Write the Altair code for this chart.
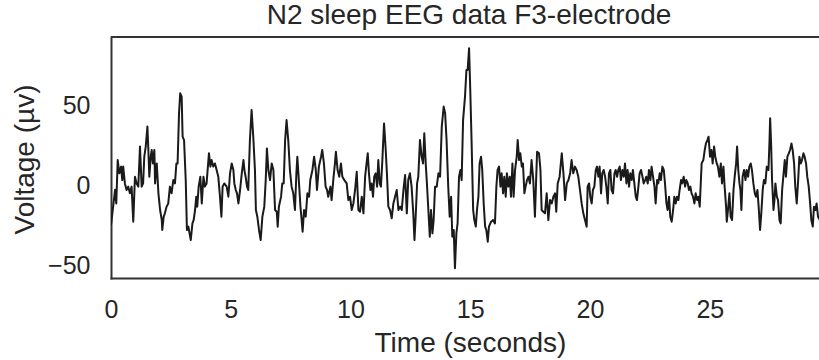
import altair as alt
import pandas as pd

# (time in seconds, voltage in microvolts)
seg_0_5 = [(0.00,-25),(0.17,-3),(0.22,-11.5),(0.28,15.6),(0.35,7.3),(0.42,11.5),(0.47,3.1),(0.51,11.5),(0.58,1),(0.65,-3.1),(0.72,-1),(0.79,-5.2),(0.86,-1),(0.93,-22.9),(1.00,5.2),(1.07,1),(1.14,-1),(1.21,24),(1.28,-1),(1.34,1),(1.39,17.7),(1.45,24),(1.52,36.5),(1.56,21.9),(1.60,5.2),(1.66,17.7),(1.70,21.9),(1.75,13.5),(1.81,21.9),(1.84,1),(1.91,13.5),(1.98,-5.2),(2.05,-15.6),(2.12,-21.9),(2.14,-28.1),(2.20,-19.8),(2.25,-17.7),(2.32,-13.5),(2.39,-11.5),(2.46,-1),(2.53,-5.2),(2.60,3.1),(2.67,1),(2.73,13.5),(2.78,13.5),(2.84,44.8),(2.89,57.3),(2.95,55.2),(2.99,30.2),(3.05,28.1),(3.12,3.1),(3.17,-28.1),(3.23,-26),(3.28,-30.2),(3.33,-34.4),(3.40,-24),(3.45,-21.9),(3.51,-15.6),(3.56,-7.3),(3.60,-13.5),(3.66,-1),(3.73,5.2),(3.79,-11.5),(3.86,5.2),(3.92,-1),(3.99,1),(4.09,19.8),(4.15,11.5),(4.20,15.6),(4.27,11.5),(4.34,13.5),(4.41,9.4),(4.48,5.2),(4.55,-7.3),(4.61,-19.8),(4.66,-1),(4.73,1),(4.83,-1),(4.90,-7.3),(4.97,7.3)]
seg_5_10 = [(5.04,13.5),(5.11,9.4),(5.15,1),(5.21,-3.1),(5.26,-5.2),(5.32,-11.5),(5.39,-3.1),(5.46,7.3),(5.53,15.6),(5.57,9.4),(5.62,5.2),(5.68,-1),(5.73,-3.1),(5.80,28.1),(5.87,46.9),(5.94,30.2),(6.01,9.4),(6.05,-15.6),(6.11,-19.8),(6.18,-28.1),(6.25,-34.4),(6.32,-19.8),(6.40,-13.5),(6.46,3.1),(6.51,22.9),(6.57,9.4),(6.64,3.1),(6.71,13.5),(6.78,9.4),(6.85,-15.6),(6.92,-16.7),(6.96,-26),(7.01,-13.5),(7.10,-7.3),(7.15,1),(7.21,1),(7.27,28.1),(7.33,40.6),(7.40,28.1),(7.47,9.4),(7.54,-1),(7.61,-5.2),(7.68,-15.6),(7.74,7.3),(7.78,17.7),(7.85,1),(7.91,-13.5),(7.96,-21.9),(8.00,-29.2),(8.06,-15.6),(8.13,-19.8),(8.20,-5.2),(8.27,-7.3),(8.32,3.1),(8.41,9.4),(8.48,17.7),(8.55,9.4),(8.60,-3.1),(8.68,11.5),(8.77,17.7),(8.82,21.9),(8.89,13.5),(8.96,-1),(9.02,-3.1),(9.07,-7.3),(9.16,-1),(9.21,-9.4),(9.28,3.1),(9.35,13.5),(9.39,20.8),(9.46,9.4),(9.53,5.2),(9.60,13.5),(9.66,5.2),(9.74,3.1),(9.84,1),(9.91,-9.4),(9.98,-7.3)]
seg_10_15 = [(10.05,-15.6),(10.12,-11.5),(10.19,-3.1),(10.26,8.3),(10.33,-15.6),(10.40,-16.7),(10.47,-7.3),(10.54,-17.7),(10.61,5.2),(10.67,13.5),(10.72,19.8),(10.77,7.3),(10.83,-3.1),(10.88,1),(10.94,-7.3),(10.99,5.2),(11.05,7.3),(11.11,-1),(11.16,15.6),(11.22,1),(11.27,-1),(11.33,15.6),(11.40,38.5),(11.47,21.9),(11.52,7.3),(11.58,-13.5),(11.65,-15.6),(11.72,-20.8),(11.79,-11.5),(11.86,-7.3),(11.93,-3.1),(12.00,-15.6),(12.07,-13.5),(12.14,-15.6),(12.21,-3.1),(12.28,6.3),(12.35,-17.7),(12.41,3.1),(12.48,7.3),(12.55,-1),(12.62,-17.7),(12.67,-34.4),(12.72,-19.8),(12.78,1),(12.83,5.2),(12.90,28.1),(12.97,17.7),(13.03,13.5),(13.08,32.3),(13.14,13.5),(13.19,1),(13.25,-15.6),(13.31,-32.3),(13.36,-15.6),(13.42,-30.2),(13.47,-21.9),(13.53,-1),(13.60,-1),(13.67,7.3),(13.74,5.2),(13.81,36.5),(13.89,49),(13.95,44.8),(14.01,28.1),(14.08,-1),(14.14,-19.8),(14.20,-7.3),(14.25,-32.3),(14.31,-28.1),(14.36,-52),(14.42,-30.2),(14.47,-24),(14.53,5.2),(14.59,9.4),(14.64,3.1),(14.70,40.6),(14.78,55.2),(14.84,71.9),(14.89,71.9),(14.95,85.4)]
seg_15_20 = [(15.00,59.4),(15.06,24),(15.12,-15.6),(15.17,-21.9),(15.23,-26),(15.28,-15.6),(15.34,-7.3),(15.39,13.5),(15.45,17.7),(15.50,9.4),(15.56,-11.5),(15.62,-26),(15.67,-28.1),(15.73,-35.4),(15.78,-26),(15.87,-22.9),(15.95,-21.9),(16.03,-24),(16.09,-1),(16.14,9.4),(16.20,11.5),(16.26,-1),(16.31,7.3),(16.37,-5.2),(16.42,5.2),(16.48,-7.3),(16.53,7.3),(16.59,-1),(16.65,5.2),(16.70,-7.3),(16.76,13.5),(16.81,-7.3),(16.87,9.4),(16.94,17.7),(16.98,28.1),(17.04,15.6),(17.09,19.8),(17.15,11.5),(17.20,13.5),(17.26,-5.2),(17.31,-1),(17.37,3.1),(17.43,5.2),(17.49,1),(17.56,15.6),(17.63,3.1),(17.70,-19.8),(17.75,3.1),(17.79,20.8),(17.87,19.8),(17.93,9.4),(17.98,-15.6),(18.05,-16.7),(18.12,-17.7),(18.19,-5.2),(18.26,-21.9),(18.33,-9.4),(18.40,-11.5),(18.47,-7.3),(18.54,-5.2),(18.59,-16.7),(18.65,1),(18.73,5.2),(18.82,19.8),(18.89,7.3),(18.96,-9.4),(19.03,1),(19.10,3.1),(19.17,7.3),(19.23,15.6),(19.30,7.3),(19.37,11.5),(19.44,9.4),(19.51,5.2),(19.58,-3.1),(19.65,-11.5),(19.72,-17.7),(19.79,-21.9),(19.86,-26),(19.90,-1),(19.96,1)]
seg_20_25 = [(20.01,-7.3),(20.07,-11.5),(20.12,-3.1),(20.18,-1),(20.24,9.4),(20.29,11.5),(20.35,5.2),(20.40,11.5),(20.46,-5.2),(20.51,7.3),(20.57,9.4),(20.63,5.2),(20.68,-1),(20.74,-11.5),(20.79,7.3),(20.85,9.4),(20.90,-3.1),(20.96,-5.2),(21.02,7.3),(21.07,9.4),(21.13,5.2),(21.18,9.4),(21.24,11.5),(21.29,3.1),(21.35,9.4),(21.41,5.2),(21.46,13.5),(21.52,1),(21.57,9.4),(21.63,-1),(21.68,7.3),(21.74,3.1),(21.79,9.4),(21.85,1),(21.91,-7.3),(21.96,-9.4),(22.02,-1),(22.07,7.3),(22.13,9.4),(22.19,5.2),(22.24,1),(22.30,3.1),(22.35,5.2),(22.41,1),(22.46,9.4),(22.52,3.1),(22.57,11.5),(22.63,5.2),(22.69,-1),(22.74,-11.5),(22.80,3.1),(22.85,1),(22.91,7.3),(22.96,3.1),(23.02,11.5),(23.08,9.4),(23.13,1),(23.19,-11.5),(23.24,-15.6),(23.30,-7.3),(23.35,-19.8),(23.41,-22.9),(23.47,-15.6),(23.52,-7.3),(23.58,-11.5),(23.63,-7.3),(23.69,-9.4),(23.74,-3.1),(23.80,3.1),(23.85,1),(23.91,5.2),(23.97,-1),(24.02,3.1),(24.08,1),(24.13,-3.1),(24.19,-1),(24.24,-5.2),(24.30,-7.3),(24.36,-11.5),(24.41,-5.2),(24.47,-9.4),(24.52,-7.3),(24.58,-13.5),(24.66,13.5),(24.73,15.6),(24.79,21.9),(24.84,26),(24.90,28.1),(24.95,30.2)]
seg_25_30 = [(25.01,17.7),(25.07,21.9),(25.12,13.5),(25.18,24),(25.23,17.7),(25.29,13.5),(25.34,11.5),(25.40,5.2),(25.46,13.5),(25.51,1),(25.57,11.5),(25.62,-1),(25.68,-13.5),(25.71,-22.9),(25.76,-15.6),(25.82,-5.2),(25.87,-19.8),(25.93,-21.9),(25.99,-3.1),(26.04,5.2),(26.10,13.5),(26.14,24),(26.19,9.4),(26.24,1),(26.28,-3.1),(26.32,-15.6),(26.37,5.2),(26.43,9.4),(26.49,3.1),(26.54,9.4),(26.60,5.2),(26.65,11.5),(26.71,13.5),(26.76,9.4),(26.82,1),(26.88,-5.2),(26.93,-7.3),(26.99,-3.1),(27.04,-13.5),(27.10,-28.1),(27.15,-17.7),(27.21,-3.1),(27.26,3.1),(27.32,1),(27.38,11.5),(27.45,9.4),(27.49,26),(27.52,41.7),(27.56,26),(27.60,3.1),(27.66,-15.6),(27.70,-9.4),(27.74,1),(27.80,-7.3),(27.85,-9.4),(27.91,-21.9),(27.96,-24),(28.02,-3.1),(28.07,5.2),(28.13,15.6),(28.18,5.2),(28.24,17.7),(28.30,19.8),(28.35,21.9),(28.41,26),(28.46,21.9),(28.52,13.5),(28.57,-1),(28.63,-11.5),(28.69,3.1),(28.74,17.7),(28.80,13.5),(28.85,15.6),(28.91,19.8),(28.96,17.7),(29.02,13.5),(29.07,5.2),(29.13,-1),(29.19,-11.5),(29.24,-21.9),(29.30,-26),(29.35,-13.5),(29.41,-15.6),(29.46,-11.5),(29.52,-19.8),(29.60,-22)]

x_ticks = [0, 5, 10, 15, 20, 25]
y_ticks = [-50, 0, 50]
x_domain = [0, 29.56]
y_domain = [-58.1, 92.5]

rows = seg_0_5 + seg_5_10 + seg_10_15 + seg_15_20 + seg_20_25 + seg_25_30
df = pd.DataFrame(rows, columns=["t", "v"])
top_edge = pd.DataFrame({"v": [y_domain[1]]})

FONT = "Liberation Sans"
TXT = "#262626"
FRAME = "#333333"

x_scale = alt.Scale(domain=x_domain, nice=False, zero=False)
y_scale = alt.Scale(domain=y_domain, nice=False, zero=False)

line = alt.Chart(df).mark_line(
    color="#1a1a1a", strokeWidth=2, strokeJoin="round", clip=True
).encode(
    x=alt.X("t:Q", scale=x_scale, axis=alt.Axis(
        orient="bottom", values=x_ticks, format="d", title="Time (seconds)",
        labelFlush=False, labelPadding=19,
        titleX=359, titleY=73, titleAlign="center", titleBaseline="alphabetic")),
    y=alt.Y("v:Q", scale=y_scale, axis=alt.Axis(
        values=y_ticks, format="d", title="Voltage (µv)", labelPadding=21,
        titleX=-78, titleY=122, titleAngle=270, titleAlign="center",
        titleBaseline="alphabetic")),
)

# top edge of the axes frame (the right edge is cut off in the reference)
top_frame = alt.Chart(top_edge).mark_rule(color=FRAME, strokeWidth=2).encode(
    y=alt.Y("v:Q", scale=y_scale),
)

chart = alt.layer(line, top_frame).properties(
    width=708,
    height=241,
    autosize=alt.AutoSizeParams(type="none"),
    padding={"left": 111, "top": 37, "right": 0, "bottom": 82},
    title=alt.TitleParams(
        "N2 sleep EEG data F3-electrode", font=FONT, fontSize=28,
        fontWeight="normal", color=TXT, anchor="middle", dx=4, dy=22,
        baseline="alphabetic", offset=6),
).configure_view(
    strokeWidth=0
).configure_axis(
    grid=False, ticks=False, domain=True, domainColor=FRAME, domainWidth=2,
    domainCap="square",
    labelFont=FONT, labelFontSize=25, labelColor=TXT,
    titleFont=FONT, titleFontSize=28, titleFontWeight="normal", titleColor=TXT,
)

chart.save("out.html", embed_options={"renderer": "svg", "actions": False})
